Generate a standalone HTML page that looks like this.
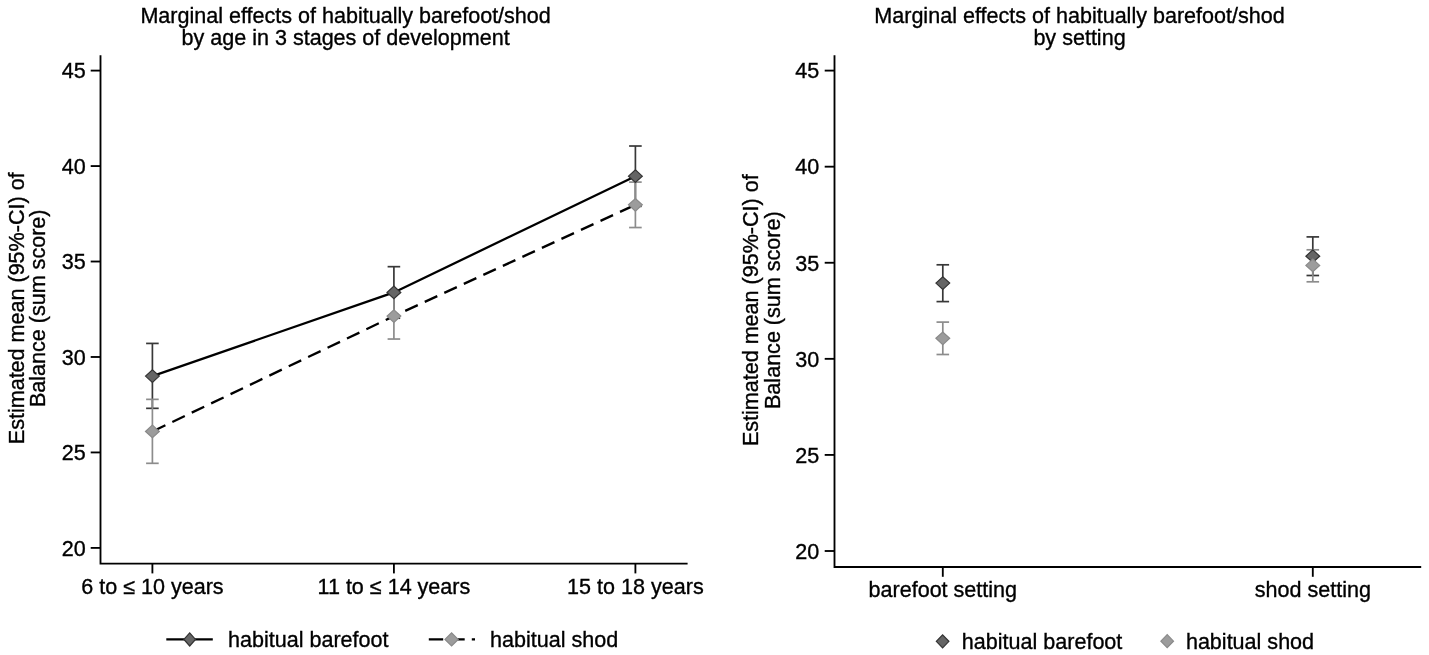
<!DOCTYPE html>
<html><head><meta charset="utf-8"><style>
html,body{margin:0;padding:0;background:#fff;}
svg{display:block;will-change:transform;}
text{font-family:"Liberation Sans", sans-serif;font-size:21.55px;fill:#000;stroke:#000;stroke-width:0.35px;}
</style></head><body>
<svg width="1429" height="655" viewBox="0 0 1429 655">
<rect x="0" y="0" width="1429" height="655" fill="#fff"/>
<text transform="translate(345.6,22.7) scale(1.0,1)" text-anchor="middle" >Marginal effects of habitually barefoot/shod</text>
<text transform="translate(345.6,44.6) scale(1.0,1)" text-anchor="middle" >by age in 3 stages of development</text>
<g transform="translate(23.8,308.3) rotate(-90)"><text transform="scale(1.0,1)" text-anchor="middle">Estimated mean (95%-CI) of</text><text transform="translate(0,21.5) scale(1.0,1)" text-anchor="middle">Balance (sum score)</text></g>
<path d="M100.5,55.3 L100.5,563.6 L687.6,563.6" fill="none" stroke="#000" stroke-width="1.85" stroke-linejoin="miter"/>
<line x1="90.7" y1="547.9" x2="100.5" y2="547.9" stroke="#000" stroke-width="1.85" />
<text transform="translate(85.7,555.6999999999999) scale(1.0,1)" text-anchor="end" >20</text>
<line x1="90.7" y1="452.44" x2="100.5" y2="452.44" stroke="#000" stroke-width="1.85" />
<text transform="translate(85.7,460.24) scale(1.0,1)" text-anchor="end" >25</text>
<line x1="90.7" y1="356.98" x2="100.5" y2="356.98" stroke="#000" stroke-width="1.85" />
<text transform="translate(85.7,364.78000000000003) scale(1.0,1)" text-anchor="end" >30</text>
<line x1="90.7" y1="261.52000000000004" x2="100.5" y2="261.52000000000004" stroke="#000" stroke-width="1.85" />
<text transform="translate(85.7,269.32000000000005) scale(1.0,1)" text-anchor="end" >35</text>
<line x1="90.7" y1="166.06" x2="100.5" y2="166.06" stroke="#000" stroke-width="1.85" />
<text transform="translate(85.7,173.86) scale(1.0,1)" text-anchor="end" >40</text>
<line x1="90.7" y1="70.60000000000002" x2="100.5" y2="70.60000000000002" stroke="#000" stroke-width="1.85" />
<text transform="translate(85.7,78.40000000000002) scale(1.0,1)" text-anchor="end" >45</text>
<line x1="152.4" y1="563.6" x2="152.4" y2="573.4" stroke="#000" stroke-width="1.85" />
<text transform="translate(152.4,593.6) scale(1.0,1)" text-anchor="middle" >6 to ≤ 10 years</text>
<line x1="393.9" y1="563.6" x2="393.9" y2="573.4" stroke="#000" stroke-width="1.85" />
<text transform="translate(393.9,593.6) scale(1.0,1)" text-anchor="middle" >11 to ≤ 14 years</text>
<line x1="635.4" y1="563.6" x2="635.4" y2="573.4" stroke="#000" stroke-width="1.85" />
<text transform="translate(635.4,593.6) scale(1.0,1)" text-anchor="middle" >15 to 18 years</text>
<line x1="152.4" y1="343.42467999999997" x2="152.4" y2="408.33748" stroke="#383838" stroke-width="1.7" />
<line x1="146.1" y1="343.42467999999997" x2="158.70000000000002" y2="343.42467999999997" stroke="#383838" stroke-width="1.7" />
<line x1="146.1" y1="408.33748" x2="158.70000000000002" y2="408.33748" stroke="#383838" stroke-width="1.7" />
<line x1="393.9" y1="266.6748400000001" x2="393.9" y2="318.22324" stroke="#383838" stroke-width="1.7" />
<line x1="387.59999999999997" y1="266.6748400000001" x2="400.2" y2="266.6748400000001" stroke="#383838" stroke-width="1.7" />
<line x1="387.59999999999997" y1="318.22324" x2="400.2" y2="318.22324" stroke="#383838" stroke-width="1.7" />
<line x1="635.4" y1="146.0134000000001" x2="635.4" y2="206.34412000000003" stroke="#383838" stroke-width="1.7" />
<line x1="629.1" y1="146.0134000000001" x2="641.6999999999999" y2="146.0134000000001" stroke="#383838" stroke-width="1.7" />
<line x1="629.1" y1="206.34412000000003" x2="641.6999999999999" y2="206.34412000000003" stroke="#383838" stroke-width="1.7" />
<line x1="152.4" y1="399.36424" x2="152.4" y2="463.32244" stroke="#8c8c8c" stroke-width="1.7" />
<line x1="146.1" y1="399.36424" x2="158.70000000000002" y2="399.36424" stroke="#8c8c8c" stroke-width="1.7" />
<line x1="146.1" y1="463.32244" x2="158.70000000000002" y2="463.32244" stroke="#8c8c8c" stroke-width="1.7" />
<line x1="393.9" y1="293.21272" x2="393.9" y2="339.03351999999995" stroke="#8c8c8c" stroke-width="1.7" />
<line x1="387.59999999999997" y1="293.21272" x2="400.2" y2="293.21272" stroke="#8c8c8c" stroke-width="1.7" />
<line x1="387.59999999999997" y1="339.03351999999995" x2="400.2" y2="339.03351999999995" stroke="#8c8c8c" stroke-width="1.7" />
<line x1="635.4" y1="182.09728000000007" x2="635.4" y2="227.53623999999996" stroke="#8c8c8c" stroke-width="1.7" />
<line x1="629.1" y1="182.09728000000007" x2="641.6999999999999" y2="182.09728000000007" stroke="#8c8c8c" stroke-width="1.7" />
<line x1="629.1" y1="227.53623999999996" x2="641.6999999999999" y2="227.53623999999996" stroke="#8c8c8c" stroke-width="1.7" />
<polyline points="152.4,376.072 393.9,292.44903999999997 635.4,176.17876" fill="none" stroke="#000" stroke-width="2.3"/>
<polyline points="152.4,431.43879999999996 393.9,316.12312 635.4,204.81676000000004" fill="none" stroke="#000" stroke-width="2.3" stroke-dasharray="13.8 7.7" stroke-dashoffset="-0.6"/>
<path d="M145.5,376.072 L152.4,369.772 L159.3,376.072 L152.4,382.372 Z" fill="#656565" stroke="#333333" stroke-width="1.2"/>
<path d="M387.0,292.44903999999997 L393.9,286.14903999999996 L400.79999999999995,292.44903999999997 L393.9,298.74904 Z" fill="#656565" stroke="#333333" stroke-width="1.2"/>
<path d="M628.5,176.17876 L635.4,169.87876 L642.3,176.17876 L635.4,182.47876000000002 Z" fill="#656565" stroke="#333333" stroke-width="1.2"/>
<path d="M145.5,431.43879999999996 L152.4,425.13879999999995 L159.3,431.43879999999996 L152.4,437.73879999999997 Z" fill="#9c9c9c" stroke="#8a8a8a" stroke-width="1.2"/>
<path d="M387.0,316.12312 L393.9,309.82311999999996 L400.79999999999995,316.12312 L393.9,322.42312 Z" fill="#9c9c9c" stroke="#8a8a8a" stroke-width="1.2"/>
<path d="M628.5,204.81676000000004 L635.4,198.51676000000003 L642.3,204.81676000000004 L635.4,211.11676000000006 Z" fill="#9c9c9c" stroke="#8a8a8a" stroke-width="1.2"/>
<line x1="166.3" y1="639.4" x2="212.8" y2="639.4" stroke="#000" stroke-width="2.3" />
<path d="M183.89999999999998,639.4 L189.7,632.8 L195.5,639.4 L189.7,646.0 Z" fill="#656565" stroke="#333333" stroke-width="1.2"/>
<text transform="translate(228.0,646.8) scale(1.0,1)" text-anchor="start" >habitual barefoot</text>
<line x1="428.8" y1="639.4" x2="475.0" y2="639.4" stroke="#000" stroke-width="2.3" stroke-dasharray="14.4 7.1"/>
<path d="M445.0,639.4 L451.6,632.8 L458.20000000000005,639.4 L451.6,646.0 Z" fill="#9c9c9c" stroke="#8a8a8a" stroke-width="1.2"/>
<text transform="translate(490.0,646.8) scale(1.0,1)" text-anchor="start" >habitual shod</text>
<text transform="translate(1079.5,22.7) scale(1.0,1)" text-anchor="middle" >Marginal effects of habitually barefoot/shod</text>
<text transform="translate(1079.5,44.6) scale(1.0,1)" text-anchor="middle" >by setting</text>
<g transform="translate(758.1,310.2) rotate(-90)"><text transform="scale(1.0,1)" text-anchor="middle">Estimated mean (95%-CI) of</text><text transform="translate(0,21.5) scale(1.0,1)" text-anchor="middle">Balance (sum score)</text></g>
<path d="M834.5,55.3 L834.5,567.0 L1421.2,567.0" fill="none" stroke="#000" stroke-width="1.85" stroke-linejoin="miter"/>
<line x1="824.7" y1="551.0" x2="834.5" y2="551.0" stroke="#000" stroke-width="1.85" />
<text transform="translate(819.2,558.8) scale(1.0,1)" text-anchor="end" >20</text>
<line x1="824.7" y1="454.92" x2="834.5" y2="454.92" stroke="#000" stroke-width="1.85" />
<text transform="translate(819.2,462.72) scale(1.0,1)" text-anchor="end" >25</text>
<line x1="824.7" y1="358.84000000000003" x2="834.5" y2="358.84000000000003" stroke="#000" stroke-width="1.85" />
<text transform="translate(819.2,366.64000000000004) scale(1.0,1)" text-anchor="end" >30</text>
<line x1="824.7" y1="262.76" x2="834.5" y2="262.76" stroke="#000" stroke-width="1.85" />
<text transform="translate(819.2,270.56) scale(1.0,1)" text-anchor="end" >35</text>
<line x1="824.7" y1="166.68" x2="834.5" y2="166.68" stroke="#000" stroke-width="1.85" />
<text transform="translate(819.2,174.48000000000002) scale(1.0,1)" text-anchor="end" >40</text>
<line x1="824.7" y1="70.60000000000002" x2="834.5" y2="70.60000000000002" stroke="#000" stroke-width="1.85" />
<text transform="translate(819.2,78.40000000000002) scale(1.0,1)" text-anchor="end" >45</text>
<line x1="942.8" y1="567.0" x2="942.8" y2="576.8" stroke="#000" stroke-width="1.85" />
<text transform="translate(942.8,597.0) scale(1.0,1)" text-anchor="middle" >barefoot setting</text>
<line x1="1312.8" y1="567.0" x2="1312.8" y2="576.8" stroke="#000" stroke-width="1.85" />
<text transform="translate(1312.8,597.0) scale(1.0,1)" text-anchor="middle" >shod setting</text>
<line x1="942.8" y1="264.8" x2="942.8" y2="301.6" stroke="#383838" stroke-width="1.7" />
<line x1="936.5" y1="264.8" x2="949.0999999999999" y2="264.8" stroke="#383838" stroke-width="1.7" />
<line x1="936.5" y1="301.6" x2="949.0999999999999" y2="301.6" stroke="#383838" stroke-width="1.7" />
<line x1="1312.8" y1="236.9" x2="1312.8" y2="275.5" stroke="#383838" stroke-width="1.7" />
<line x1="1306.5" y1="236.9" x2="1319.1" y2="236.9" stroke="#383838" stroke-width="1.7" />
<line x1="1306.5" y1="275.5" x2="1319.1" y2="275.5" stroke="#383838" stroke-width="1.7" />
<line x1="942.8" y1="322.1" x2="942.8" y2="354.5" stroke="#8c8c8c" stroke-width="1.7" />
<line x1="936.5" y1="322.1" x2="949.0999999999999" y2="322.1" stroke="#8c8c8c" stroke-width="1.7" />
<line x1="936.5" y1="354.5" x2="949.0999999999999" y2="354.5" stroke="#8c8c8c" stroke-width="1.7" />
<line x1="1312.8" y1="249.8" x2="1312.8" y2="281.8" stroke="#8c8c8c" stroke-width="1.7" />
<line x1="1306.5" y1="249.8" x2="1319.1" y2="249.8" stroke="#8c8c8c" stroke-width="1.7" />
<line x1="1306.5" y1="281.8" x2="1319.1" y2="281.8" stroke="#8c8c8c" stroke-width="1.7" />
<path d="M935.9,283.1 L942.8,276.8 L949.6999999999999,283.1 L942.8,289.40000000000003 Z" fill="#656565" stroke="#333333" stroke-width="1.2"/>
<path d="M1305.8999999999999,256.2 L1312.8,249.89999999999998 L1319.7,256.2 L1312.8,262.5 Z" fill="#656565" stroke="#333333" stroke-width="1.2"/>
<path d="M935.9,338.3 L942.8,332.0 L949.6999999999999,338.3 L942.8,344.6 Z" fill="#9c9c9c" stroke="#8a8a8a" stroke-width="1.2"/>
<path d="M1305.8999999999999,265.4 L1312.8,259.09999999999997 L1319.7,265.4 L1312.8,271.7 Z" fill="#9c9c9c" stroke="#8a8a8a" stroke-width="1.2"/>
<path d="M936.3000000000001,641.3 L942.6,634.8 L948.9,641.3 L942.6,647.8 Z" fill="#656565" stroke="#333333" stroke-width="1.2"/>
<text transform="translate(961.8,648.6) scale(1.0,1)" text-anchor="start" >habitual barefoot</text>
<path d="M1160.9,641.2 L1167.2,634.7 L1173.5,641.2 L1167.2,647.7 Z" fill="#9c9c9c" stroke="#8a8a8a" stroke-width="1.2"/>
<text transform="translate(1185.9,648.6) scale(1.0,1)" text-anchor="start" >habitual shod</text>
</svg>
</body></html>
